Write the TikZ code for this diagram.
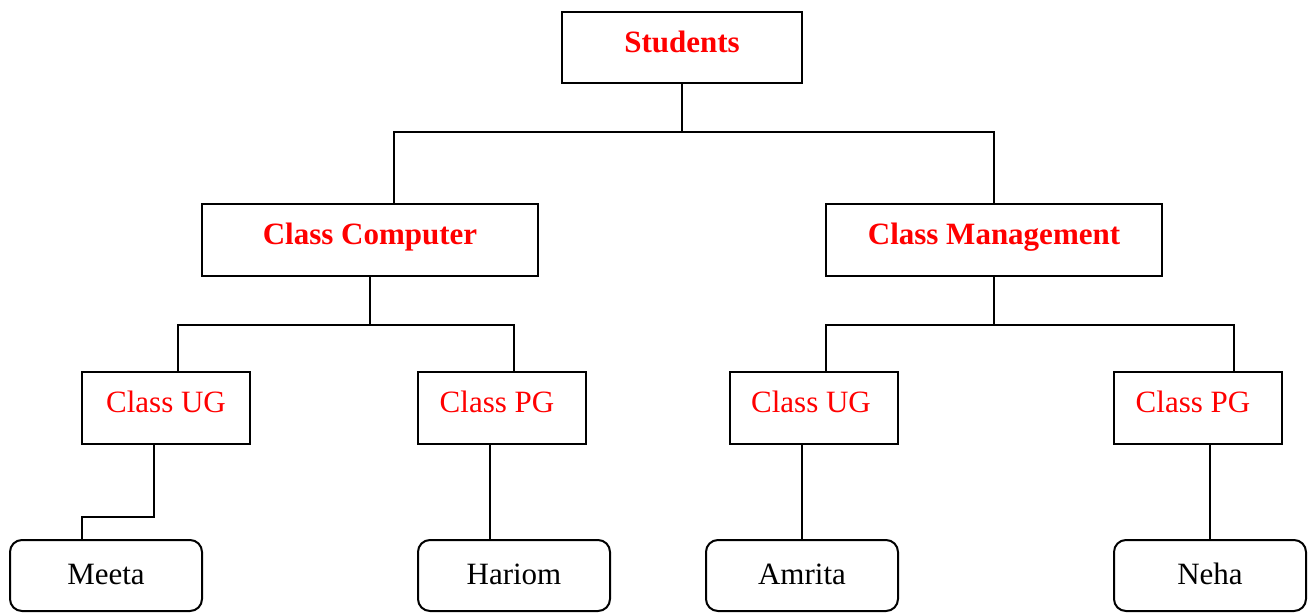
\documentclass[tikz,border=0pt]{standalone}
\usepackage{fontspec}
\setmainfont{Liberation Serif}
\begin{document}
\begin{tikzpicture}[x=1pt,y=-1pt,
  every node/.style={inner sep=0pt, font=\fontsize{31}{36}\selectfont},
  classbox/.style={draw, line width=2pt, text=red, minimum width=168pt, minimum height=72pt,
    text height=21pt, text depth=12pt},
  headbox/.style={classbox, font=\fontsize{31}{36}\selectfont\bfseries},
  namebox/.style={draw, line width=2pt, rounded corners=12pt, minimum width=192pt,
    minimum height=71pt, text height=21pt, text depth=4pt},
  link/.style={line width=2pt}]
\useasboundingbox (0,0) rectangle (1316,613);

% root and departments
\node[headbox, minimum width=240pt, minimum height=71pt] (stu) at (682,47.5) {Students};
\node[headbox, minimum width=336pt] (cc) at (370,240) {Class Computer};
\node[headbox, minimum width=336pt] (cm) at (994,240) {Class Management};

% classes (labels sit a little left of centre in some boxes)
\node[classbox] (ug1) at (166,408) {Class UG};
\node[classbox] (pg1) at (502,408) {\hspace*{-10pt}Class PG};
\node[classbox] (ug2) at (814,408) {\hspace*{-6pt}Class UG};
\node[classbox] (pg2) at (1198,408) {\hspace*{-10pt}Class PG};

% students
\node[namebox] (meeta)  at (106,575.5)  {Meeta};
\node[namebox] (hariom) at (514,575.5)  {Hariom};
\node[namebox] (amrita) at (802,575.5)  {Amrita};
\node[namebox] (neha)   at (1210,575.5) {Neha};

% tree connectors
\draw[link] (stu.south) -- ++(0,48) -| ([xshift=24pt]cc.north);
\draw[link] (stu.south) -- ++(0,48) -| (cm.north);
\draw[link] (cc.south) -- ++(0,48) -| ([xshift=12pt]ug1.north);
\draw[link] (cc.south) -- ++(0,48) -| ([xshift=12pt]pg1.north);
\draw[link] (cm.south) -- ++(0,48) -| ([xshift=12pt]ug2.north);
\draw[link] (cm.south) -- ++(0,48) -| ([xshift=36pt]pg2.north);
\draw[link] ([xshift=-12pt]ug1.south) -- ++(0,72) -| ([xshift=-24pt]meeta.north);
\draw[link] ([xshift=-12pt]pg1.south) -- ([xshift=-24pt]hariom.north);
\draw[link] ([xshift=-12pt]ug2.south) -- (amrita.north);
\draw[link] ([xshift=12pt]pg2.south) -- (neha.north);
\end{tikzpicture}
\end{document}
